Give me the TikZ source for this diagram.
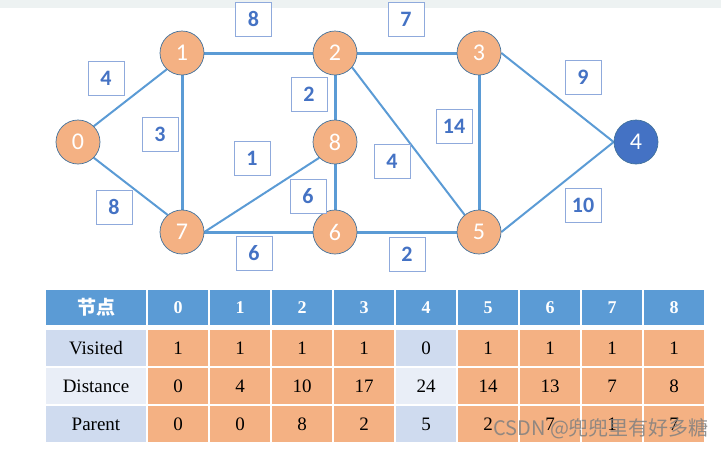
\documentclass[tikz,border=0pt]{standalone}
\usepackage{fontspec}
\setmainfont{Liberation Serif}
\newfontfamily\carl{Carlito}
\newfontfamily\cjk{Noto Sans CJK SC}
\usetikzlibrary{backgrounds}
\definecolor{edgeblue}{HTML}{5B9BD5}
\definecolor{nodeorange}{HTML}{F4B183}
\definecolor{nodeborder}{HTML}{41719C}
\definecolor{darkblue}{HTML}{4472C4}
\definecolor{boxborder}{HTML}{8FAADC}
\definecolor{labeltext}{HTML}{4472C4}
\definecolor{hdrblue}{HTML}{5B9BD5}
\definecolor{rowa}{HTML}{CFDBEF}
\definecolor{rowb}{HTML}{E9EEF7}
\definecolor{topband}{HTML}{EDF2F2}
\begin{document}
\begin{tikzpicture}[x=1pt,y=-1pt,
  vert/.style={circle, minimum size=44pt, inner sep=0pt, fill=nodeorange, draw=nodeborder, line width=0.7pt, text=white, font=\carl\fontsize{24}{26}\selectfont},
  vertdone/.style={vert, fill=darkblue},
  wbox/.style={draw=boxborder, line width=0.9pt, fill=white, minimum width=36pt, minimum height=34pt, inner sep=0pt, text=labeltext, font=\carl\bfseries\fontsize{22}{24}\selectfont},
  thick edge/.style={draw=edgeblue, line width=3pt},
  thin edge/.style={draw=edgeblue, line width=2pt},
  cell/.style={draw=white, line width=1.5pt},
  celltext/.style={font=\fontsize{19}{21}\selectfont, text=black},
  hdrtext/.style={font=\bfseries\fontsize{18}{20}\selectfont, text=white}
]
\useasboundingbox (0,0) rectangle (721,448);
\fill[topband] (0,0) rectangle (721,8);

% vertices
\node[vert] (n0) at (78,142) {0};
\node[vert] (n1) at (182,53) {1};
\node[vert] (n2) at (335,53) {2};
\node[vert] (n3) at (479,53) {3};
\node[vertdone] (n4) at (636,142) {4};
\node[vert] (n5) at (479,232) {5};
\node[vert] (n6) at (335,232) {6};
\node[vert] (n7) at (182,232) {7};
\node[vert] (n8) at (335,142) {8};

% edges
\begin{scope}[on background layer]
\draw[thin edge] (n0.45) -- (n1.227);
\draw[thin edge] (n0.-45) -- (n7.130);
\draw[thick edge] (n1) -- (n2);
\draw[thick edge] (n1) -- (n7);
\draw[thick edge] (n2) -- (n3);
\draw[thick edge] (n2) -- (n8);
\draw[thin edge] (n2.-40) -- (n5.130);
\draw[thin edge] (n7.east) -- (n8.225);
\draw[thick edge] (n8) -- (n6);
\draw[thick edge] (n7) -- (n6);
\draw[thick edge] (n6) -- (n5);
\draw[thick edge] (n3) -- (n5);
\draw[thin edge] (n3.east) -- (n4.west);
\draw[thin edge] (n5.east) -- (n4.west);
\end{scope}

% weights
\node[wbox] (w12) at (253.5,19) {8};
\node[wbox] (w23) at (406,19) {7};
\node[wbox] (w01) at (106,78) {4};
\node[wbox] (w17) at (160,134) {3};
\node[wbox] (w28) at (309,94) {2};
\node[wbox] (w78) at (252,158) {1};
\node[wbox] (w86) at (308,196) {6};
\node[wbox] (w07) at (114,207) {8};
\node[wbox] (w76) at (254,253) {6};
\node[wbox] (w34) at (583,77) {9};
\node[wbox] (w35) at (454,126) {14};
\node[wbox] (w25) at (392,161) {4};
\node[wbox] (w54) at (583,205) {10};
\node[wbox] (w65) at (407,254) {2};

% table header
\fill[cell, fill=hdrblue] (45,289) rectangle (147,326);
\node[font=\cjk\bfseries\fontsize{19}{21}\selectfont, text=white] (h) at (96,307.5) {节点};
\foreach \i in {0,...,8}{
  \pgfmathsetmacro{\xl}{147+62*\i}
  \pgfmathsetmacro{\xr}{209+62*\i}
  \pgfmathsetmacro{\xc}{178+62*\i}
  \fill[cell, fill=hdrblue] (\xl,289) rectangle (\xr,326);
  \node[hdrtext] (h\i) at (\xc,307.5) {\i};
}
% row labels
\filldraw[cell, fill=rowa] (45,329) rectangle (147,367);
\filldraw[cell, fill=rowb] (45,367) rectangle (147,405);
\filldraw[cell, fill=rowa] (45,405) rectangle (147,443);
\node[celltext] (rv) at (96,348) {Visited};
\node[celltext] (rd) at (96,386) {Distance};
\node[celltext] (rp) at (96,424) {Parent};
% body
\foreach \i/\v/\d/\p in {0/1/0/0, 1/1/4/0, 2/1/10/8, 3/1/17/2, 4/0/24/5, 5/1/14/2, 6/1/13/7, 7/1/7/1, 8/1/8/7}{
  \pgfmathsetmacro{\xl}{147+62*\i}
  \pgfmathsetmacro{\xr}{209+62*\i}
  \pgfmathsetmacro{\xc}{178+62*\i}
  \ifnum\i=4
    \filldraw[cell, fill=rowa] (\xl,329) rectangle (\xr,367);
    \filldraw[cell, fill=rowb] (\xl,367) rectangle (\xr,405);
    \filldraw[cell, fill=rowa] (\xl,405) rectangle (\xr,443);
  \else
    \filldraw[cell, fill=nodeorange] (\xl,329) rectangle (\xr,367);
    \filldraw[cell, fill=nodeorange] (\xl,367) rectangle (\xr,405);
    \filldraw[cell, fill=nodeorange] (\xl,405) rectangle (\xr,443);
  \fi
  \node[celltext] (v\i) at (\xc,348) {\v};
  \node[celltext] (d\i) at (\xc,386) {\d};
  \node[celltext] (p\i) at (\xc,424) {\p};
}
% watermark
\node[anchor=base west, inner sep=0pt, text=gray, opacity=0.85, font=\cjk\fontsize{20}{22}\selectfont] (wm) at (493,435) {CSDN @兜兜里有好多糖};
\end{tikzpicture}
\end{document}
